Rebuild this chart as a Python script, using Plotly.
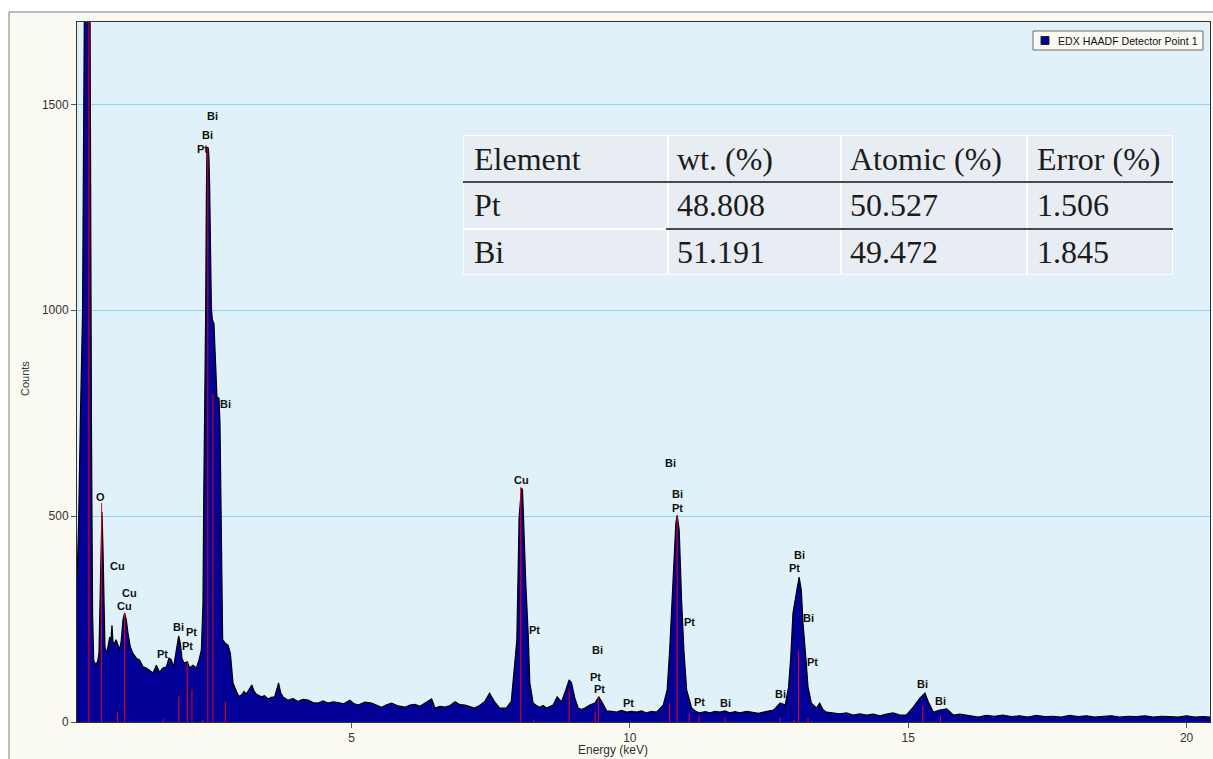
import plotly.graph_objects as go

# ---------------- data ----------------
energy_keV = [
    0.07, 0.10, 0.13, 0.17, 0.19, 0.21, 0.24, 0.28, 0.30, 0.31,
    0.33, 0.35, 0.37, 0.40, 0.44, 0.464, 0.488, 0.507, 0.518, 0.536,
    0.553, 0.572, 0.596, 0.626, 0.656, 0.68, 0.698, 0.716, 0.746, 0.77,
    0.788, 0.81, 0.836, 0.866, 0.896, 0.925, 0.956, 0.985, 1.028, 1.075,
    1.136, 1.195, 1.255, 1.315, 1.375, 1.435, 1.495, 1.554, 1.614, 1.675,
    1.722, 1.76, 1.806, 1.854, 1.896, 1.926, 1.955, 1.991, 2.052, 2.093,
    2.153, 2.214, 2.261, 2.304, 2.333, 2.345, 2.363, 2.381, 2.393, 2.404,
    2.429, 2.440, 2.453, 2.471, 2.483, 2.501, 2.530, 2.542, 2.561, 2.584,
    2.620, 2.638, 2.668, 2.686, 2.73, 2.782, 2.825, 2.872, 2.938, 2.98,
    3.028, 3.07, 3.11, 3.16, 3.21, 3.25, 3.29, 3.38, 3.44, 3.50,
    3.56, 3.62, 3.69, 3.73, 3.77, 3.86, 3.95, 4.04, 4.13, 4.22,
    4.31, 4.40, 4.49, 4.58, 4.67, 4.76, 4.86, 4.97, 5.04, 5.12,
    5.24, 5.36, 5.45, 5.54, 5.63, 5.72, 5.84, 5.96, 6.05, 6.14,
    6.23, 6.32, 6.44, 6.50, 6.59, 6.68, 6.77, 6.86, 6.95, 7.04,
    7.12, 7.21, 7.30, 7.39, 7.48, 7.57, 7.66, 7.78, 7.87, 7.92,
    7.97, 8.011, 8.054, 8.072, 8.095, 8.131, 8.173, 8.203, 8.263, 8.32,
    8.383, 8.44, 8.503, 8.56, 8.622, 8.694, 8.773, 8.850, 8.909, 8.952,
    9.012, 9.071, 9.13, 9.192, 9.24, 9.281, 9.371, 9.443, 9.509, 9.581,
    9.67, 9.761, 9.85, 9.941, 10.03, 10.12, 10.21, 10.30, 10.39, 10.48,
    10.60, 10.67, 10.715, 10.778, 10.826, 10.850, 10.886, 10.929, 10.970, 11.02,
    11.11, 11.18, 11.26, 11.35, 11.44, 11.53, 11.62, 11.71, 11.80, 11.89,
    11.97, 12.10, 12.22, 12.31, 12.40, 12.49, 12.58, 12.70, 12.79, 12.85,
    12.89, 12.93, 13.00, 13.04, 13.08, 13.11, 13.16, 13.20, 13.26, 13.35,
    13.41, 13.47, 13.53, 13.65, 13.77, 13.89, 14.01, 14.13, 14.25, 14.37,
    14.49, 14.61, 14.73, 14.85, 14.97, 15.09, 15.21, 15.30, 15.36, 15.45,
    15.57, 15.69, 15.81, 15.93, 16.05, 16.15, 16.26, 16.4, 16.55, 16.7,
    16.85, 17.0, 17.15, 17.3, 17.45, 17.6, 17.75, 17.9, 18.05, 18.2,
    18.35, 18.5, 18.65, 18.8, 18.95, 19.1, 19.25, 19.4, 19.55, 19.7,
    19.85, 20.0, 20.15, 20.3, 20.42,
]
counts = [
    345, 490, 730, 1000, 1456, 2000, 2600, 2500, 1900, 1284,
    700, 260, 150, 140, 146, 167, 328, 490, 510, 425,
    279, 182, 167, 182, 206, 200, 235, 194, 191, 200,
    194, 185, 175, 199, 248, 265, 248, 216, 182, 167,
    155, 150, 134, 131, 126, 119, 138, 121, 131, 134,
    155, 152, 134, 175, 209, 191, 155, 143, 146, 131,
    138, 131, 150, 175, 289, 522, 733, 993, 1260, 1396,
    1393, 1371, 1296, 1163, 1007, 976, 968, 927, 847, 789,
    786, 726, 400, 200, 192, 187, 167, 95, 73, 62,
    66, 74, 68, 80, 90, 75, 68, 61, 64, 56,
    60, 61, 95, 70, 61, 53, 57, 50, 55, 53,
    47, 46, 51, 46, 49, 47, 44, 53, 45, 41,
    48, 46, 40, 36, 42, 46, 39, 36, 41, 43,
    38, 46, 56, 34, 38, 36, 40, 49, 42, 41,
    37, 34, 40, 49, 70, 49, 34, 34, 50, 119,
    199, 498, 568, 563, 459, 337, 216, 95, 46, 40,
    36, 40, 34, 38, 41, 61, 49, 78, 102, 95,
    58, 34, 30, 34, 38, 41, 46, 61, 46, 27,
    26, 24, 28, 24, 26, 24, 27, 22, 26, 24,
    41, 78, 175, 337, 483, 502, 466, 296, 175, 78,
    34, 26, 22, 25, 22, 26, 24, 27, 22, 25,
    22, 26, 24, 21, 24, 27, 29, 46, 41, 85,
    158, 265, 328, 352, 320, 240, 158, 85, 46, 34,
    46, 30, 24, 22, 20, 22, 17, 20, 17, 19,
    15, 19, 22, 17, 17, 36, 58, 70, 49, 24,
    29, 32, 17, 19, 17, 15, 12, 16, 14, 17,
    13, 15, 12, 16, 13, 14, 12, 16, 13, 15,
    12, 14, 15, 12, 14, 13, 15, 12, 14, 13,
    12, 15, 12, 13, 12,
]

# element marker lines (red)
marker_energy = [0.284, 0.512, 0.80, 0.925, 1.015, 1.62, 1.90, 2.05, 2.135, 2.33,
                 2.42, 2.512, 2.735, 8.04, 8.275, 8.91, 9.377, 9.434, 10.715, 10.85,
                 11.065, 11.24, 11.71, 12.695, 12.95, 13.03, 13.20, 13.26, 15.26, 15.58]
marker_height = [1800, 532, 24, 265, 3, 7, 63, 145, 78, 5,
                 1396, 798, 49, 570, 5, 78, 25, 60, 46, 502,
                 22, 15, 12, 10, 5, 175, 10, 3, 39, 15]

# peak labels
label_text = ["O", "Cu", "Cu", "Cu", "Pt", "Bi", "Pt", "Pt", "Bi", "Bi", "Pt", "Bi",
              "Cu", "Pt", "Bi", "Pt", "Pt", "Pt", "Bi", "Bi", "Pt", "Pt", "Pt", "Bi",
              "Bi", "Bi", "Pt", "Bi", "Pt", "Bi", "Bi"]
label_energy = [0.50, 0.80, 1.015, 0.93, 1.61, 1.90, 2.135, 2.05, 2.51, 2.42, 2.33, 2.74,
                8.05, 8.28, 9.42, 9.38, 9.46, 9.98, 10.73, 10.85, 10.85, 11.07, 11.25, 11.71,
                12.70, 13.04, 12.95, 13.20, 13.28, 15.25, 15.58]
label_counts = [547, 379, 314, 282, 165, 230, 218, 184, 1471, 1426, 1392, 772,
                587, 223, 175, 110, 79, 47, 628, 554, 520, 243, 49, 47,
                68, 405, 374, 252, 145, 92, 51]

legend_name = "EDX HAADF Detector Point 1"

# composition table
table_header = ["Element", "wt. (%)", "Atomic (%)", "Error (%)"]
table_element = ["Pt", "Bi"]
table_wt = ["48.808", "51.191"]
table_atomic = ["50.527", "49.472"]
table_error = ["1.506", "1.845"]

# ---------------- figure ----------------
W, H = 1213, 759
ML, MR, MT, MB = 77, 3, 22, 37
PW, PH = W - ML - MR, H - MT - MB
NAVY = "#000096"


def xp(px):
    return (px - ML) / PW


def yp(py):
    return (H - MB - py) / PH


fig = go.Figure()

fig.add_trace(go.Scatter(
    x=energy_keV, y=counts, mode="lines", fill="tozeroy", name=legend_name,
    fillcolor=NAVY, line=dict(color="#000000", width=1.2),
    showlegend=False, hoverinfo="x+y",
))

mx, my = [], []
for e, h in zip(marker_energy, marker_height):
    mx += [e, e, None]
    my += [0, h, None]
fig.add_trace(go.Scatter(
    x=mx, y=my, mode="lines", line=dict(color="#E8001C", width=1),
    showlegend=False, hoverinfo="skip",
))

annotations = []
for t, e, c in zip(label_text, label_energy, label_counts):
    annotations.append(dict(
        x=e, y=c, xref="x", yref="y", text="<b>%s</b>" % t, showarrow=False,
        font=dict(family="Liberation Sans, Arial", size=11, color="#111111"),
        xanchor="center", yanchor="middle",
    ))

# axis titles
annotations.append(dict(x=xp(25), y=yp(379), xref="paper", yref="paper", text="Counts",
                        textangle=-90, showarrow=False, xanchor="center", yanchor="middle",
                        font=dict(family="Liberation Sans, Arial", size=11, color="#333333")))
annotations.append(dict(x=xp(613), y=yp(750), xref="paper", yref="paper", text="Energy (keV)",
                        showarrow=False, xanchor="center", yanchor="middle",
                        font=dict(family="Liberation Sans, Arial", size=12, color="#333333")))

shapes = []
# outer frame (white outside, grey border)
shapes.append(dict(type="rect", xref="paper", yref="paper", x0=xp(-5), x1=xp(9), y0=yp(770), y1=yp(-5),
                   fillcolor="white", line=dict(width=0), layer="below"))
shapes.append(dict(type="rect", xref="paper", yref="paper", x0=xp(-5), x1=xp(1220), y0=yp(12), y1=yp(-5),
                   fillcolor="white", line=dict(width=0), layer="below"))
shapes.append(dict(type="line", xref="paper", yref="paper", x0=xp(9), x1=xp(9), y0=yp(770), y1=yp(12),
                   line=dict(color="#7a7a7a", width=1), layer="below"))
shapes.append(dict(type="line", xref="paper", yref="paper", x0=xp(9), x1=xp(1220), y0=yp(12), y1=yp(12),
                   line=dict(color="#7a7a7a", width=1), layer="below"))

# legend box (drawn)
shapes.append(dict(type="rect", xref="paper", yref="paper", x0=xp(1033), x1=xp(1203), y0=yp(50), y1=yp(31),
                   fillcolor="#FAFAF2", line=dict(color="#6a6a6a", width=1), layer="above"))
shapes.append(dict(type="rect", xref="paper", yref="paper", x0=xp(1041), x1=xp(1049), y0=yp(44.5), y1=yp(36.5),
                   fillcolor=NAVY, line=dict(color="#222222", width=1), layer="above"))
annotations.append(dict(x=xp(1056), y=yp(40.5), xref="paper", yref="paper", text=legend_name,
                        showarrow=False, xanchor="left", yanchor="middle",
                        font=dict(family="Liberation Sans, Arial", size=10.6, color="#111111")))

# table
col_edges = [463, 668, 841, 1027, 1173]
row_edges = [135, 182, 229, 275]
shapes.append(dict(type="rect", xref="paper", yref="paper", x0=xp(col_edges[0]), x1=xp(col_edges[-1]),
                   y0=yp(row_edges[-1]), y1=yp(row_edges[0]), fillcolor="#FFFFFF",
                   line=dict(width=0), layer="above"))
for r in range(3):
    for c in range(4):
        shapes.append(dict(type="rect", xref="paper", yref="paper",
                           x0=xp(col_edges[c] + 1), x1=xp(col_edges[c + 1] - 1),
                           y0=yp(row_edges[r + 1] - 1), y1=yp(row_edges[r] + 1),
                           fillcolor="#E8EDF3", line=dict(width=0), layer="above"))
shapes.append(dict(type="line", xref="paper", yref="paper", x0=xp(463), x1=xp(1173),
                   y0=yp(182), y1=yp(182), line=dict(color="#4a4a4a", width=2), layer="above"))
shapes.append(dict(type="line", xref="paper", yref="paper", x0=xp(666), x1=xp(1173),
                   y0=yp(229), y1=yp(229), line=dict(color="#4a4a4a", width=2), layer="above"))

table_rows = [table_header,
              [table_element[0], table_wt[0], table_atomic[0], table_error[0]],
              [table_element[1], table_wt[1], table_atomic[1], table_error[1]]]
row_centers = [159, 205, 252]
text_left = [472, 675, 848, 1035]
for r, row in enumerate(table_rows):
    for c, txt in enumerate(row):
        annotations.append(dict(
            x=xp(text_left[c]), y=yp(row_centers[r]), xref="paper", yref="paper",
            text=txt, showarrow=False, xanchor="left", yanchor="middle",
            font=dict(family="Liberation Serif, Times New Roman", size=32, color="#1c1c1c"),
        ))

fig.update_layout(
    width=W, height=H,
    margin=dict(l=ML, r=MR, t=MT, b=MB),
    paper_bgcolor="#FAFAF2", plot_bgcolor="#E1F1FA",
    font=dict(family="Liberation Sans, Arial", size=12, color="#333333"),
    showlegend=False,
    annotations=annotations,
    shapes=shapes,
)
fig.update_xaxes(range=[0.07, 20.42], tickvals=[5, 10, 15, 20], showgrid=False, zeroline=False,
                 showline=True, linecolor="#333333", linewidth=1, mirror=True,
                 ticks="outside", ticklen=5, tickcolor="#555555",
                 tickfont=dict(size=12, color="#333333"))
fig.update_yaxes(range=[0, 1700], tickvals=[0, 500, 1000, 1500], showgrid=True,
                 gridcolor="#8FD3F0", gridwidth=1, zeroline=False,
                 showline=True, linecolor="#333333", linewidth=1, mirror=True,
                 ticks="outside", ticklen=5, tickcolor="#555555",
                 tickfont=dict(size=12, color="#333333"))

fig.write_html("out.html", config={"displayModeBar": False},
               post_script="document.body.style.margin='0';")
